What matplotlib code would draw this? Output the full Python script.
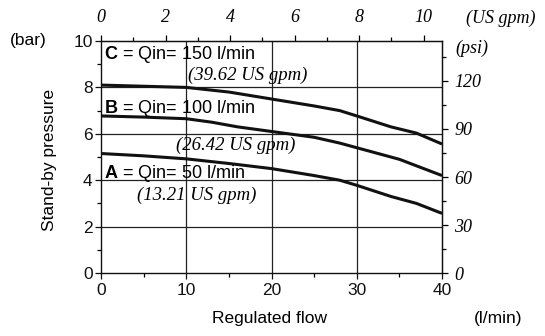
import matplotlib
matplotlib.use("Agg")
import matplotlib.pyplot as plt
import numpy as np

plt.rcParams['font.family'] = ['Liberation Sans', 'DejaVu Sans']
plt.rcParams['mathtext.fontset'] = 'custom'
plt.rcParams['mathtext.bf'] = 'Liberation Sans:bold'
plt.rcParams['mathtext.rm'] = 'Liberation Sans'

# Data (flow l/min, pressure bar)
flow_C = [0, 5, 10, 15, 20, 25, 28, 30, 34, 37, 40]
pres_C = [8.1, 8.05, 8.0, 7.8, 7.5, 7.2, 7.0, 6.77, 6.3, 6.03, 5.56]
flow_B = [0, 5, 10, 13, 16, 20, 25, 28, 30, 35, 40]
pres_B = [6.77, 6.72, 6.65, 6.5, 6.3, 6.1, 5.85, 5.6, 5.4, 4.9, 4.2]
flow_A = [0, 5, 10, 15, 20, 25, 28, 30, 34, 37, 40]
pres_A = [5.15, 5.05, 4.92, 4.72, 4.5, 4.2, 4.0, 3.78, 3.3, 3.0, 2.57]

curve_labels = ["C", "B", "A"]
curve_qin = ["Qin= 150 l/min", "Qin= 100 l/min", "Qin= 50 l/min"]
curve_gpm = ["(39.62 US gpm)", "(26.42 US gpm)", "(13.21 US gpm)"]

x_ticks = [0, 10, 20, 30, 40]
y_ticks = [0, 2, 4, 6, 8, 10]
gpm_ticks = [0, 2, 4, 6, 8, 10]
psi_ticks = [0, 30, 60, 90, 120]

LPM_PER_GPM = 3.785
PSI_PER_BAR = 14.5

fig = plt.figure(figsize=(5.45, 3.36), dpi=100)
ax = fig.add_axes([101/545, 1-273/336, (442-101)/545, (273-41)/336])

ax.set_xlim(0, 40)
ax.set_ylim(0, 10)

for gx in [10, 20, 30]:
    ax.axvline(gx, color='#222222', lw=0.9, zorder=1)
for gy in [2, 4, 6, 8]:
    ax.axhline(gy, color='#222222', lw=0.9, zorder=1)

for fx, py in [(flow_C, pres_C), (flow_B, pres_B), (flow_A, pres_A)]:
    ax.plot(fx, py, color='#111111', lw=2.2, solid_capstyle='butt', zorder=3)

ax.set_xticks(x_ticks)
ax.set_yticks(y_ticks)
ax.set_xticks([5, 15, 25, 35], minor=True)
ax.set_yticks([1, 3, 5, 7, 9], minor=True)
ax.tick_params(axis='both', which='major', labelsize=12.5, length=4, width=0.9, direction='out', colors='#111111')
ax.tick_params(axis='both', which='minor', length=3, width=0.9, direction='out')
ax.tick_params(axis='x', pad=3)
ax.tick_params(axis='y', pad=2)
for s in ax.spines.values():
    s.set_linewidth(1.0)
    s.set_color('#111111')

serif_it = dict(family=['Liberation Serif', 'DejaVu Serif'], style='italic')

secx = ax.secondary_xaxis('top', functions=(lambda x: x / LPM_PER_GPM, lambda g: g * LPM_PER_GPM))
secx.set_xticks(gpm_ticks)
secx.set_xticks([1, 3, 5, 7, 9], minor=True)
secx.tick_params(which='major', length=4, width=0.9, pad=7)
secx.tick_params(which='minor', length=3, width=0.9)
for lab in secx.get_xticklabels():
    lab.set_fontfamily(['Liberation Serif', 'DejaVu Serif'])
    lab.set_fontstyle('italic')
    lab.set_fontsize(13)

secy = ax.secondary_yaxis('right', functions=(lambda b: b * PSI_PER_BAR, lambda p: p / PSI_PER_BAR))
secy.set_yticks(psi_ticks)
secy.set_yticks([15, 45, 75, 105, 135], minor=True)
secy.tick_params(which='major', length=4, width=0.9, pad=5)
secy.tick_params(which='minor', length=3, width=0.9)
for lab in secy.get_yticklabels():
    lab.set_fontfamily(['Liberation Serif', 'DejaVu Serif'])
    lab.set_fontstyle('italic')
    lab.set_fontsize(13)

# Curve labels
lab_y = [9.4, 7.11, 4.31]
gpm_pos = [(10.2, 8.53), (8.8, 5.52), (4.2, 3.36)]
for letter, q, g, ly, (gx, gy) in zip(curve_labels, curve_qin, curve_gpm, lab_y, gpm_pos):
    ax.text(0.35, ly, r"$\mathbf{%s}$ = %s" % (letter, q), fontsize=13, va='center', ha='left', zorder=4)
    ax.text(gx, gy, g, fontsize=13.5, va='center', ha='left', zorder=4, **serif_it)

fig.text(10/545, 1-41/336, "(bar)", fontsize=12.5, va='center', ha='left')
fig.text(50/545, 1-160/336, "Stand-by pressure", fontsize=12.5, rotation=90, va='center', ha='center')
fig.text(270/545, 1-318/336, "Regulated flow", fontsize=12.5, va='center', ha='center')
fig.text(498/545, 1-318/336, "(l/min)", fontsize=12.5, va='center', ha='center')
fig.text(501/545, 1-18/336, "(US gpm)", fontsize=13, va='center', ha='center', **serif_it)
fig.text(455/545, 1-48/336, "(psi)", fontsize=13, va='center', ha='left', **serif_it)

fig.savefig("out.png", dpi=100)
